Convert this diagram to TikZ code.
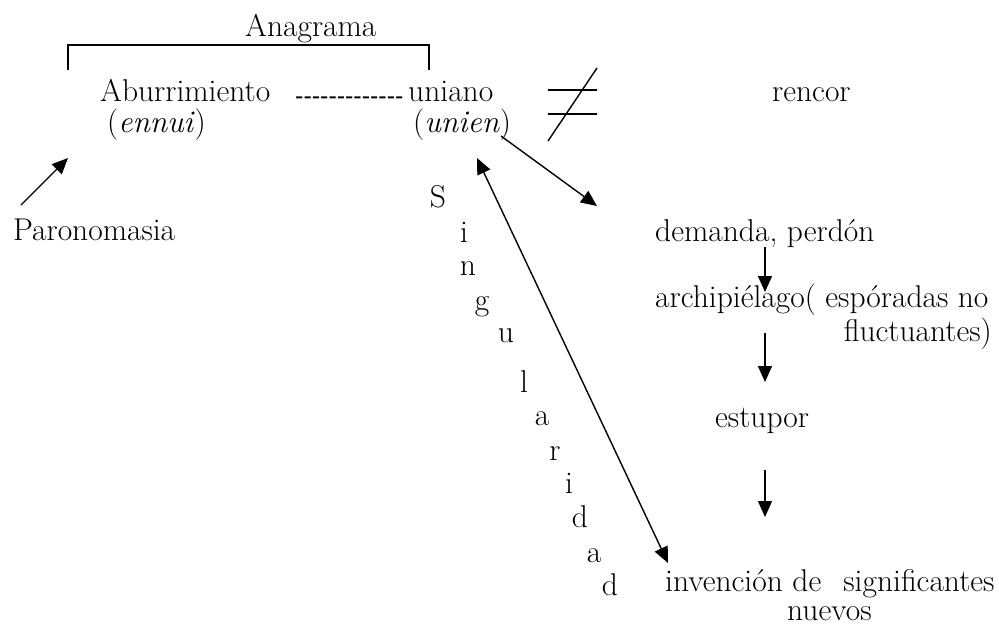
\documentclass[tikz,border=0pt]{standalone}
\usepackage{fontspec}
\newfontfamily\dashfont{Liberation Sans}
\usetikzlibrary{arrows.meta}
\newcommand\hy{-\kern0pt}
\begin{document}
\begin{tikzpicture}[x=1pt,y=-1pt,
  txt/.style={inner sep=0pt, anchor=base west, font=\fontsize{31.5}{36}\selectfont},
  ltr/.style={inner sep=0pt, anchor=base, font=\fontsize{31.5}{36}\selectfont},
  ln/.style={line width=1.4pt},
  arr/.style={line width=1.4pt, -{Triangle[length=16pt,width=14pt]}},
  darr/.style={line width=1.4pt, {Triangle[length=16pt,width=14pt]}-{Triangle[length=16pt,width=14pt]}}]
\useasboundingbox (0,0) rectangle (999,633);
% texts
\node[txt] (anag) at (245,36) {Anagrama};
\node[txt] (abur) at (100,101) {Aburrimiento};
\node[txt, font=\dashfont\fontsize{25}{30}\selectfont] (dash) at (295,104) {\hy\hy\hy\hy\hy\hy\hy\hy\hy\hy\hy\hy\hy};
\node[txt] (uni) at (408,101) {uniano};
\node[txt] (ennui) at (107,132) {(\textit{ennui})};
\node[txt] (unien) at (413,132) {(\textit{unien})};
\node[txt] (rencor) at (772,101) {rencor};
\node[txt] (paro) at (13,240) {Paronomasia};
\node[txt] (dem) at (655,241) {demanda, perdón};
\node[txt] (arch) at (655,307) {archipiélago( espóradas no};
\node[txt, anchor=base east] (fluc) at (992,341) {fluctuantes)};
\node[txt] (estu) at (715,427) {estupor};
\node[txt] (inv) at (665,591) {invención de\hspace{0.4em} significantes};
\node[txt] (nuev) at (787,620) {nuevos};
% vertical word
\node[ltr] (s1) at (438,207) {S};
\node[ltr] (s2) at (464,242) {i};
\node[ltr] (s3) at (468,275) {n};
\node[ltr] (s4) at (482,310) {g};
\node[ltr] (s5) at (506,342) {u};
\node[ltr] (s6) at (524,392) {l};
\node[ltr] (s7) at (542,425) {a};
\node[ltr] (s8) at (555,460) {r};
\node[ltr] (s9) at (569,493) {i};
\node[ltr] (s10) at (580,527) {d};
\node[ltr] (s11) at (594,562) {a};
\node[ltr] (s12) at (610,595) {d};
% bracket
\coordinate (b1) at (68,70);
\coordinate (b2) at (68,45);
\coordinate (b3) at (429,45);
\coordinate (b4) at (429,70);
\draw[line width=1.2pt] (b1) -- (b2) -- (b3) -- (b4);
% not equal
\coordinate (ne1) at (548,90);  \coordinate (ne2) at (597,90);
\coordinate (ne3) at (548,114); \coordinate (ne4) at (597,114);
\coordinate (ne5) at (548,141); \coordinate (ne6) at (597,68);
\draw[ln] (ne1) -- (ne2);
\draw[ln] (ne3) -- (ne4);
\draw[ln] (ne5) -- (ne6);
% arrows
\coordinate (pt) at (21,205);  \coordinate (ph) at (68,158);
\draw[arr] (pt) -- (ph);
\coordinate (ut) at (501,136); \coordinate (uh) at (597,206);
\draw[arr] (ut) -- (uh);
\coordinate (dt) at (477,158); \coordinate (dh) at (668,563);
\draw[darr] (dt) -- (dh);
\coordinate (a1) at (765,247); \coordinate (a2) at (765,292);
\coordinate (a3) at (765,333); \coordinate (a4) at (765,382);
\coordinate (a5) at (765,470); \coordinate (a6) at (765,517);
\draw[arr] (a1) -- (a2);
\draw[arr] (a3) -- (a4);
\draw[arr] (a5) -- (a6);
\end{tikzpicture}
\end{document}
